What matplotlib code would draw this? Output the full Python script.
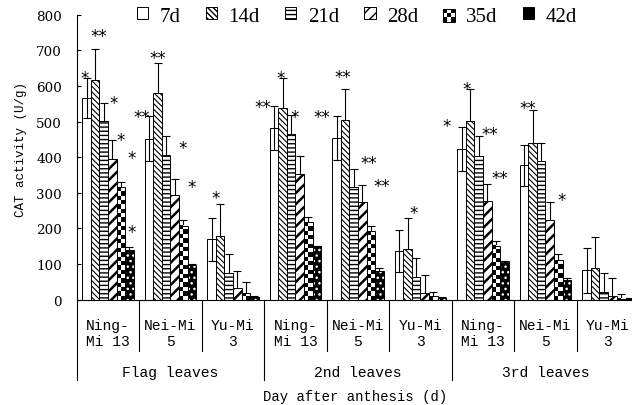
import numpy as np
import matplotlib
matplotlib.use('Agg')
import matplotlib.pyplot as plt
import matplotlib.transforms as mtransforms
from matplotlib.patches import Patch, Rectangle

# categories
days = ['7d', '14d', '21d', '28d', '35d', '42d']
cultivars = ['Ning-\nMi 13', 'Nei-Mi\n5', 'Yu-Mi\n3'] * 3
leaves = ['Flag leaves', '2nd leaves', '3rd leaves']

# CAT activity (U/g), one list per day, 9 cultivar x leaf groups each
v7 = [566, 452, 169, 481, 453, 136, 424, 377, 83]
v14 = [617, 579, 180, 538, 504, 141, 502, 439, 89]
v21 = [502, 407, 75, 465, 317, 64, 402, 390, 23]
v28 = [396, 293, 33, 352, 275, 19, 277, 223, 11]
v35 = [317, 208, 19, 218, 192, 9, 152, 111, 3]
v42 = [140, 97, 7, 152, 80, 5, 110, 54, 2]

# standard deviations
e7 = [56, 63, 61, 62, 62, 59, 62, 58, 63]
e14 = [86, 85, 88, 84, 88, 89, 90, 93, 88]
e21 = [50, 53, 52, 53, 51, 53, 58, 49, 52]
e28 = [53, 47, 47, 52, 46, 49, 47, 51, 50]
e35 = [13, 17, 30, 15, 15, 12, 12, 16, 14]
e42 = [8, 4, 3, 0, 9, 2, 0, 7, 2]

# significance marks
s7 = ['*', '**', '', '**', '**', '', '*', '', '']
s14 = ['**', '**', '*', '*', '**', '*', '*', '**', '']
s21 = ['*', '*', '', '*', '**', '', '**', '', '']
s28 = ['*', '*', '', '', '**', '', '**', '*', '']
s35 = ['*', '', '', '', '', '', '', '', '']
s42 = ['*', '', '', '', '', '', '', '', '']

means = [v7, v14, v21, v28, v35, v42]
errs = [e7, e14, e21, e28, e35, e42]
stars = [s7, s14, s21, s28, s35, s42]

# where each star sits relative to the top of its error bar (pixels, right / down)
star_nudge = {
    (0, 0): (-1.6, -5.7), (1, 0): (4, -18.6), (2, 0): (9.6, -5), (3, 0): (8.8, -4.7),
    (4, 0): (10.9, -29.4), (5, 0): (2.3, -20.6),
    (0, 1): (-7.1, -4.6), (1, 1): (0.1, -10), (2, 1): (16.5, 7.3), (3, 1): (17, 3.4),
    (1, 2): (-4.1, -11.7),
    (0, 3): (-11, -4), (1, 3): (-1.9, -5.7), (2, 3): (3.8, -3.3),
    (0, 4): (-14.3, -4.6), (1, 4): (-1.8, -16.7), (2, 4): (15.6, -11), (3, 4): (19.5, -4.3),
    (1, 5): (5.7, -10),
    (0, 6): (-14.9, -5.6), (1, 6): (-3.4, -5), (2, 6): (11.3, -6.7), (3, 6): (12.1, -11),
    (1, 7): (-4.3, -7.7), (3, 7): (12, -7.7),
}

hatches = [None, '\\\\\\\\\\\\', '----', '///', None, '...']
hatch_lw = [1.0, 0.8, 1.0, 1.8, 1.0, 1.0]

mono = 'Liberation Mono'

fig = plt.figure(figsize=(6.32, 4.06), dpi=100)
ax = fig.add_axes([76.7 / 632, 105.3 / 406, 555.3 / 632, 285 / 406])

n = len(v7)
xc = np.arange(n) + 0.5
bw = 0.137

for j in range(6):
    xs = xc + (j - 2.5) * bw
    vals = means[j]
    if j == 4:
        # checkerboard fill
        for i in range(n):
            rows = max(1, int(round(vals[i] * 0.355 / 4.3)))
            board = np.indices((rows, 2)).sum(axis=0) % 2
            ax.imshow(board, cmap='gray', vmin=0, vmax=1, interpolation='nearest',
                      extent=[xs[i] - bw / 2, xs[i] + bw / 2, 0, vals[i]],
                      aspect='auto', zorder=2)
        ax.bar(xs, vals, bw, fill=False, edgecolor='black', linewidth=0.7, zorder=2.5)
    elif j == 5:
        with plt.rc_context({'hatch.linewidth': hatch_lw[j]}):
            ax.bar(xs, vals, bw, color='black', edgecolor='white', hatch=hatches[j],
                   linewidth=0, zorder=2)
        ax.bar(xs, vals, bw, fill=False, edgecolor='black', linewidth=0.7, zorder=2.5)
    else:
        with plt.rc_context({'hatch.linewidth': hatch_lw[j]}):
            ax.bar(xs, vals, bw, facecolor='white', edgecolor='black', hatch=hatches[j],
                   linewidth=0.7, zorder=2)
    ax.errorbar(xs, vals, yerr=errs[j], fmt='none', ecolor='black', elinewidth=0.8,
                capsize=3, capthick=0.8, zorder=3 if j == 0 else 1)
    for i in range(n):
        if not stars[j][i]:
            continue
        dx, dy = star_nudge.get((j, i), (0, -6))
        ax.annotate(stars[j][i], xy=(xs[i], vals[i] + errs[j][i]),
                    xytext=(dx * 0.72, -dy * 0.72 - 3.7), textcoords='offset points',
                    ha='center', va='center', fontsize=12, family='DejaVu Sans', zorder=4)

ax.set_xlim(0, 555.3 / 62.5)
ax.set_ylim(0, 800)
ax.set_yticks(np.arange(0, 801, 100))
ax.set_xticks([])
ax.tick_params(axis='y', direction='in', length=3, width=0.8, pad=10.5)
for lab in ax.get_yticklabels():
    lab.set_fontfamily('DejaVu Serif')
    lab.set_fontsize(9.7)
ax.spines['top'].set_visible(False)
ax.spines['right'].set_visible(False)
ax.spines['left'].set_linewidth(0.8)
ax.spines['bottom'].set_linewidth(0.8)

# category axis below the plot
trans = mtransforms.blended_transform_factory(ax.transData, ax.transAxes)
for b in [1, 2, 4, 5, 7, 8]:
    ax.plot([b, b], [0, -0.179], transform=trans, color='black', lw=0.8, clip_on=False)
for b in [0, 3, 6, 9]:
    ax.plot([b, b], [0, -0.281], transform=trans, color='black', lw=0.8, clip_on=False)
for i, lab in enumerate(cultivars):
    ax.text(xc[i], -0.117, lab, transform=trans, ha='center', va='center',
            fontsize=10.5, family=mono, linespacing=1.1)
for g, lab in enumerate(leaves):
    ax.text(1.5 + 3 * g, -0.253, lab, transform=trans, ha='center', va='center',
            fontsize=10.5, family=mono)
ax.text(4.45, -0.337, 'Day after anthesis (d)', transform=trans, ha='center', va='center',
        fontsize=10, family=mono)
fig.text(21 / 632, 1 - 150 / 406, 'CAT activity (U/g)', rotation=90, ha='center',
         va='center', fontsize=9, family=mono)


class Checker:
    pass


class CheckerHandler:
    def legend_artist(self, legend, orig_handle, fontsize, handlebox):
        x0, y0 = handlebox.xdescent, handlebox.ydescent
        w, h = handlebox.width, handlebox.height
        tr = handlebox.get_transform()
        k = 3
        for r in range(k):
            for c in range(k):
                fc = 'black' if (r + c) % 2 == 0 else 'white'
                handlebox.add_artist(Rectangle((x0 + c * w / k, y0 + r * h / k), w / k, h / k,
                                               facecolor=fc, edgecolor='none', transform=tr))
        box = Rectangle((x0, y0), w, h, fill=False, edgecolor='black', linewidth=0.7,
                        transform=tr)
        handlebox.add_artist(box)
        return box


handles = []
for j in range(6):
    if j == 4:
        handles.append(Checker())
    elif j == 5:
        handles.append(Patch(facecolor='black', edgecolor='black', linewidth=0.7))
    else:
        handles.append(Patch(facecolor='white', edgecolor='black', hatch=hatches[j],
                             linewidth=0.7))

fig.legend(handles, days, loc='center left', bbox_to_anchor=(136.7 / 632, 1 - 17 / 406),
           ncol=6, frameon=False, borderpad=0, borderaxespad=0, handlelength=0.55,
           handleheight=0.55, handletextpad=0.55, columnspacing=1.2,
           handler_map={Checker: CheckerHandler()},
           prop={'family': 'Liberation Serif', 'size': 15})

fig.savefig('out.png', dpi=100)
